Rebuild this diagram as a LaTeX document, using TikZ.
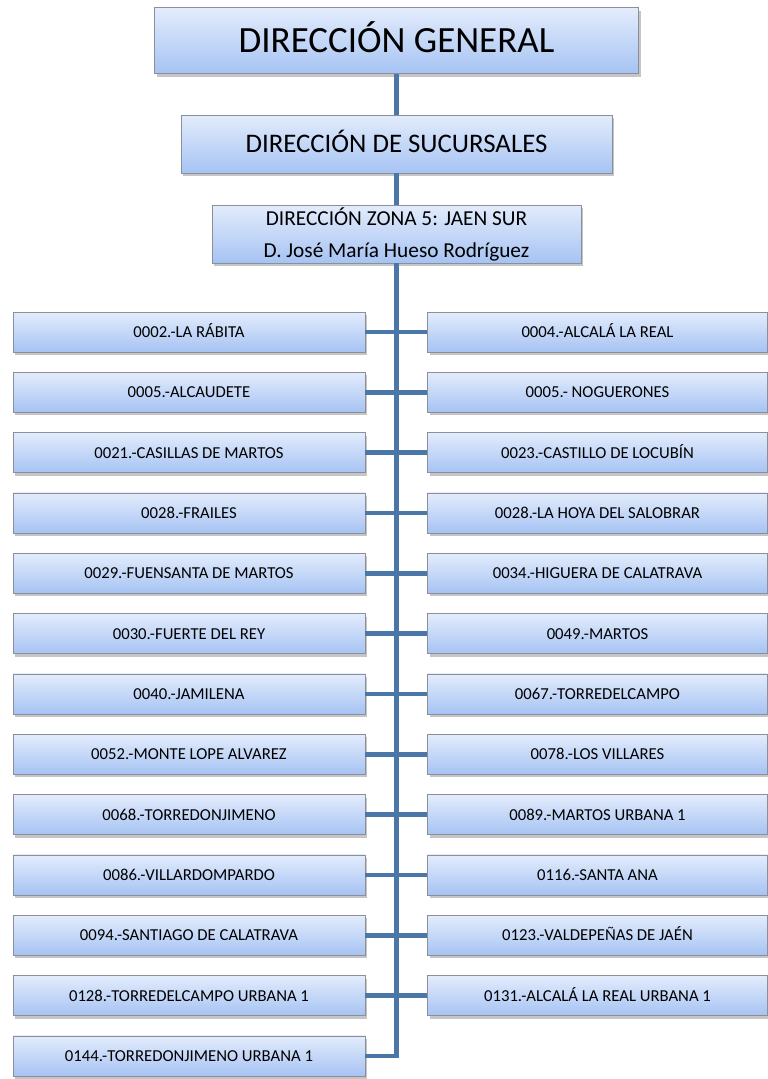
\documentclass[tikz,border=0pt]{standalone}
\usepackage{fontspec}
\setmainfont{Carlito}
\usetikzlibrary{shadows}
\definecolor{boxtop}{HTML}{E3ECFC}
\definecolor{boxbot}{HTML}{A6C3F3}
\definecolor{boxedge}{HTML}{8A8F99}
\definecolor{linkc}{HTML}{4A76A8}
\tikzset{
  orgbox/.style={draw=boxedge, line width=0.8pt, top color=boxtop, bottom color=boxbot,
    drop shadow={shadow xshift=2pt, shadow yshift=-3pt, fill=black!45, opacity=0.5},
    inner sep=0pt, align=center},
  branch/.style={orgbox, text height=10.75pt, text depth=0pt, minimum height=40pt, font=\fontsize{16.7}{19}\selectfont},
  lbox/.style={branch, minimum width=352pt},
  rbox/.style={branch, minimum width=340pt},
  link/.style={draw=linkc, line width=4.5pt},
}
\begin{document}
\begin{tikzpicture}[x=1pt,y=-1pt]
\useasboundingbox (0,0) rectangle (768,1079);
\node[orgbox, text height=23.8pt, text depth=0pt, minimum width=484pt, minimum height=66pt, font=\fontsize{37}{42}\selectfont] (dg) at (396.5,40.5) {DIRECCIÓN GENERAL};
\node[orgbox, text height=17.3pt, text depth=0pt, minimum width=431pt, minimum height=58pt, font=\fontsize{26.8}{30}\selectfont] (ds) at (396.5,144) {DIRECCIÓN DE SUCURSALES};
\node[orgbox, minimum width=369pt, minimum height=58pt, font=\fontsize{21.3}{32}\selectfont] (dz) at (396.5,234) {DIRECCIÓN ZONA 5: JAEN SUR\\D. José María Hueso Rodríguez};
\foreach \i/\lt/\rt in {
 0/{0002.-LA RÁBITA}/{0004.-ALCALÁ LA REAL},
 1/{0005.-ALCAUDETE}/{0005.- NOGUERONES},
 2/{0021.-CASILLAS DE MARTOS}/{0023.-CASTILLO DE LOCUBÍN},
 3/{0028.-FRAILES}/{0028.-LA HOYA DEL SALOBRAR},
 4/{0029.-FUENSANTA DE MARTOS}/{0034.-HIGUERA DE CALATRAVA},
 5/{0030.-FUERTE DEL REY}/{0049.-MARTOS},
 6/{0040.-JAMILENA}/{0067.-TORREDELCAMPO},
 7/{0052.-MONTE LOPE ALVAREZ}/{0078.-LOS VILLARES},
 8/{0068.-TORREDONJIMENO}/{0089.-MARTOS URBANA 1},
 9/{0086.-VILLARDOMPARDO}/{0116.-SANTA ANA},
 10/{0094.-SANTIAGO DE CALATRAVA}/{0123.-VALDEPEÑAS DE JAÉN},
 11/{0128.-TORREDELCAMPO URBANA 1}/{0131.-ALCALÁ LA REAL URBANA 1}} {
  \node[lbox] (L\i) at (189, 332+60.33*\i) {\lt};
  \node[rbox] (R\i) at (597.5, 332+60.33*\i) {\rt};
  \draw[link] (L\i.east) -- (R\i.west);
}
\node[lbox] (L12) at (189, 332+60.33*12) {0144.-TORREDONJIMENO URBANA 1};
\coordinate (trunk) at (396.5, 332+60.33*12);
\draw[link] (dg.south) -- (ds.north);
\draw[link] (ds.south) -- (dz.north);
\draw[link] (dz.south) -- (trunk);
\draw[link] (L12.east) -- ([xshift=2.25pt]trunk);
\end{tikzpicture}
\end{document}
